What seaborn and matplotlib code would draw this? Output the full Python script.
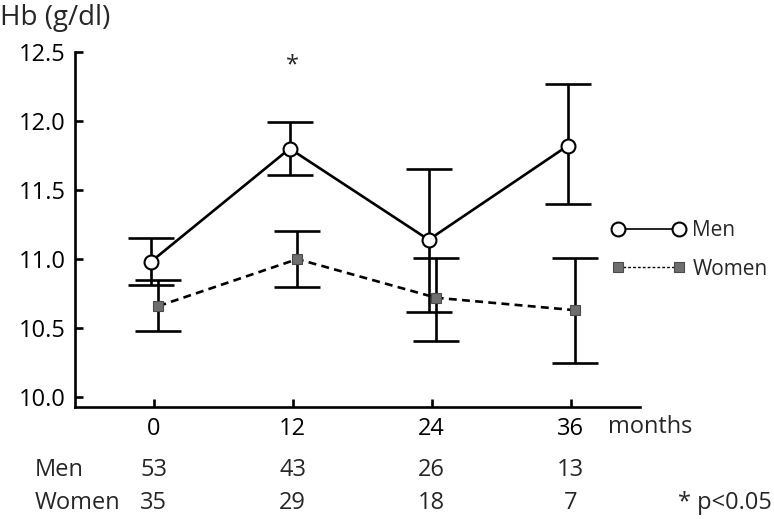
import matplotlib
matplotlib.use("Agg")
import matplotlib.pyplot as plt
from matplotlib.lines import Line2D
import pandas as pd
import seaborn as sns

months = [0, 12, 24, 36]
men_mean = [10.98, 11.80, 11.14, 11.82]
men_upper = [11.15, 11.99, 11.65, 12.27]
men_lower = [10.81, 11.61, 10.62, 11.40]
women_mean = [10.66, 11.00, 10.72, 10.63]
women_upper = [10.85, 11.20, 11.01, 11.01]
women_lower = [10.48, 10.80, 10.41, 10.25]
men_n = [53, 43, 26, 13]
women_n = [35, 29, 18, 7]
yticks = [10.0, 10.5, 11.0, 11.5, 12.0, 12.5]

sns.set_style("ticks")
plt.rcParams["font.family"] = ["Open Sans", "DejaVu Sans"]

FS = 17
LW = 1.9

fig = plt.figure(figsize=(7.74, 5.19), dpi=100)
ax = fig.add_axes([0.097, 0.216, 0.730, 0.684])

men = pd.DataFrame({"month": [m - 0.26 for m in months], "hb": men_mean})
women = pd.DataFrame({"month": [m + 0.4 for m in months], "hb": women_mean})

# error bars first so markers sit on top
for df, up, lo in [(men, men_upper, men_lower), (women, women_upper, women_lower)]:
    yerr = [[m - l for m, l in zip(df["hb"], lo)], [u - m for m, u in zip(df["hb"], up)]]
    ax.errorbar(df["month"], df["hb"], yerr=yerr, fmt="none", ecolor="black",
                elinewidth=LW, capsize=16.5, capthick=LW, zorder=2)

sns.lineplot(data=men, x="month", y="hb", ax=ax, color="black", linewidth=LW,
             marker="o", markersize=10, markerfacecolor="white",
             markeredgecolor="black", markeredgewidth=1.5, zorder=3)
sns.lineplot(data=women, x="month", y="hb", ax=ax, color="black", linewidth=LW,
             linestyle=(0, (3, 2)), marker="s", markersize=7.5,
             markerfacecolor="#6e6e6e", markeredgecolor="#4a4a4a",
             markeredgewidth=0.8, zorder=3)

ax.set_xlim(-6.8, 42)
ax.set_ylim(9.93, 12.5)
ax.set_xticks(months)
ax.set_xticklabels([str(m) for m in months])
ax.set_yticks(yticks)
ax.set_yticklabels([f"{v:.1f}" for v in yticks])
ax.set_xlabel("")
ax.set_ylabel("")
ax.tick_params(direction="in", length=6, width=LW, labelsize=FS, colors="black", pad=7)
for side in ["top", "right"]:
    ax.spines[side].set_visible(False)
for side in ["left", "bottom"]:
    ax.spines[side].set_linewidth(LW)
    ax.spines[side].set_color("black")

# significance marker at 12 months
ax.text(12, 12.40, "*", ha="center", va="center", fontsize=FS)

fig.text(0.0, 0.965, "Hb (g/dl)", fontsize=FS + 3, ha="left", va="center")
fig.text(608 / 774, 1 - 427 / 519, "months", fontsize=FS, ha="left", va="center")

# numbers at risk below axis
trans = ax.get_xaxis_transform()
fig.text(35 / 774, 1 - 470 / 519, "Men", fontsize=FS, ha="left", va="center")
fig.text(35 / 774, 1 - 503 / 519, "Women", fontsize=FS, ha="left", va="center")
for m, a, b in zip(months, men_n, women_n):
    ax.text(m, -(470 - 407) / 355, str(a), transform=trans, fontsize=FS,
            ha="center", va="center", clip_on=False)
    ax.text(m, -(503 - 407) / 355, str(b), transform=trans, fontsize=FS,
            ha="center", va="center", clip_on=False)
fig.text(0.997, 1 - 503 / 519, "* p<0.05", fontsize=FS, ha="right", va="center")

handles = [
    Line2D([], [], color="black", linewidth=1.2, marker="o", markersize=10,
           markerfacecolor="white", markeredgecolor="black", markeredgewidth=1.5),
    Line2D([], [], color="black", linewidth=1.0, linestyle=(0, (2, 1.5)), marker="s",
           markersize=7.5, markerfacecolor="#6e6e6e", markeredgecolor="#4a4a4a",
           markeredgewidth=0.8),
]
fig.legend(handles, ["Men", "Women"], loc="upper left",
           bbox_to_anchor=(612 / 774, 1 - 220 / 519), frameon=False, numpoints=2,
           handlelength=3.5, handletextpad=0.35, labelspacing=0.85, fontsize=15,
           borderpad=0, borderaxespad=0)

fig.savefig("out.png", dpi=100)
